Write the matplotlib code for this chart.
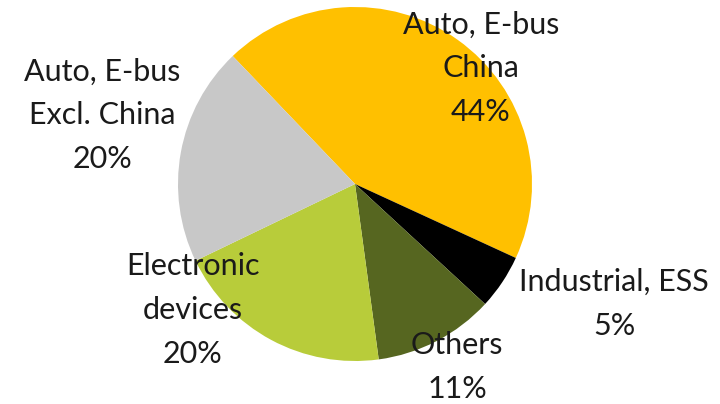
import matplotlib
matplotlib.use("Agg")
import matplotlib.pyplot as plt

labels = ["Auto, E-bus\nChina", "Industrial, ESS", "Others",
          "Electronic\ndevices", "Auto, E-bus\nExcl. China"]
shares = [44, 5, 11, 20, 20]
colors = ["#FFC000", "#000000", "#566620", "#B8CC3A", "#C8C8C8"]

# label anchor positions in pixel space (x, y from bottom)
label_pos = [(481, 336), (614, 100), (457, 37), (193, 94), (102, 289)]

plt.rcParams['font.family'] = ['Lato', 'DejaVu Sans']

fig = plt.figure(figsize=(7.2, 4.04), dpi=100)
ax = fig.add_axes([0, 0, 1, 1])

ax.pie(shares, colors=colors, startangle=133.7, counterclock=False,
       center=(355, 220), radius=177, frame=True,
       wedgeprops=dict(linewidth=0))
ax.set_xlim(0, 720)
ax.set_ylim(0, 404)
ax.set_aspect('equal')
ax.axis('off')

for lab, val, (x, y) in zip(labels, shares, label_pos):
    ax.text(x, y, "%s\n%d%%" % (lab, val), ha='center', va='center',
            fontsize=22, color='#1a1a1a', linespacing=1.68)

fig.savefig("out.png", dpi=100)
